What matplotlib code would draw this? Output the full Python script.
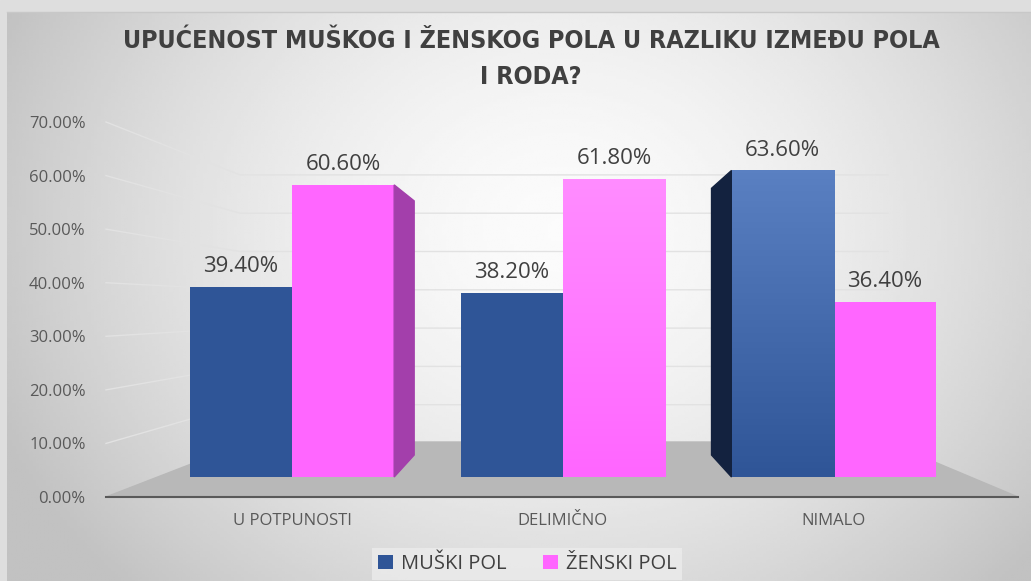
import numpy as np
import matplotlib.pyplot as plt
from matplotlib.patches import Polygon, Rectangle
from matplotlib.ticker import FuncFormatter
from matplotlib.colors import LinearSegmentedColormap
from matplotlib import font_manager

# data
categories = ['U POTPUNOSTI', 'DELIMIČNO', 'NIMALO']
muski = [39.4, 38.2, 63.6]
zenski = [60.6, 61.8, 36.4]
series_names = ['MUŠKI POL', 'ŽENSKI POL']
title = 'UPUĆENOST MUŠKOG I ŽENSKOG POLA U RAZLIKU IZMEĐU POLA\nI RODA?'

W, H = 1031, 581
BLUE = '#2f5597'
PINK = '#ff66ff'
TXT = '#404040'
LBL = '#595959'

plt.rcParams['font.family'] = ['Open Sans', 'DejaVu Sans']

# narrow font for the title if there is one
names = {f.name for f in font_manager.fontManager.ttflist}
title_font = 'Liberation Sans Narrow' if 'Liberation Sans Narrow' in names else 'DejaVu Sans'

fig = plt.figure(figsize=(W / 100, H / 100), dpi=100)


def fx(px):
    return px / W


def fy(py):
    return 1 - py / H


# background: outer frame + panel with soft radial gradient
bg = fig.add_axes([0, 0, 1, 1], zorder=0)
bg.set_xlim(0, W)
bg.set_ylim(H, 0)
bg.axis('off')
bg.add_patch(Rectangle((0, 0), W, H, color='#dedede', zorder=0))
xx, yy = np.meshgrid(np.linspace(7, W, 300), np.linspace(12, H, 200))
r = np.sqrt(((xx - 560) / 620) ** 2 + ((yy - 230) / 520) ** 2)
shade = np.clip(0.985 - 0.23 * r ** 1.6, 0.76, 0.985)
bg.imshow(shade, cmap='gray', vmin=0, vmax=1, extent=(7, W, H, 12),
          aspect='auto', zorder=1, interpolation='bilinear')
bg.plot([7, W], [12, 12], color='#c8c8c8', lw=1, zorder=2)


# 3D-ish floor and back wall gridlines (pixel coords)
def wall_y(v):
    return 443 - 3.83 * v


def axis_y(v):
    return 497 - 5.357 * v


bg.add_patch(Polygon([(106, 497), (248, 442), (887, 442), (1018, 497)],
                     closed=True, color='#b8b8b8', zorder=3))
for v in range(10, 80, 10):
    bg.plot([106, 240, 888], [axis_y(v), wall_y(v), wall_y(v)],
            color='#e2e2e2', lw=1, zorder=2)
bg.plot([106, 1018], [497, 497], color='#595959', lw=1.5, zorder=4)

# value axis (tick labels only)
ax = fig.add_axes([fx(105), fy(497), fx(1018) - fx(105), fy(122) - fy(497)], zorder=2)
ax.set_ylim(0, 0.7)
ax.set_yticks(np.arange(0, 0.71, 0.1))
ax.yaxis.set_major_formatter(FuncFormatter(lambda v, p: f'{v * 100:.2f}%'))
ax.tick_params(axis='y', length=0, labelsize=12, labelcolor=LBL, pad=14)
ax.set_xticks([])
ax.patch.set_alpha(0)
for s in ax.spines.values():
    s.set_visible(False)

# bars axis (perspective-scaled front faces)
x = np.arange(len(categories))
bw = 0.377
ax2 = fig.add_axes(ax.get_position(), zorder=3)
ax2.axis('off')

b1 = ax2.bar(x - bw / 2, muski, bw, color=BLUE, zorder=3, label=series_names[0])
b2 = ax2.bar(x + bw / 2, zenski, bw, color=PINK, zorder=3, label=series_names[1])

# gradients on the third blue bar and the middle pink bar
grad = np.linspace(0, 1, 100).reshape(-1, 1)
for bar, cols in [(b1[2], ['#2f5597', '#5a80c2']), (b2[1], ['#ff66ff', '#ff8cff'])]:
    cm = LinearSegmentedColormap.from_list('g', cols)
    im = ax2.imshow(grad, cmap=cm, origin='lower', aspect='auto', zorder=3.5,
                    extent=(bar.get_x(), bar.get_x() + bar.get_width(), 0, bar.get_height()))
    im.set_clip_path(bar)
ax2.set_xlim(-0.691, 2.681)
ax2.set_ylim(-4.15, 73.65)

# side faces seen in perspective
dx = 20 / 270.75
sb = b2[0]
xr = sb.get_x() + sb.get_width()
h = sb.get_height()
ax2.add_patch(Polygon([(xr, 0), (xr, h), (xr + dx, 4.56 + 0.87 * h), (xr + dx, 4.56)],
                      closed=True, color='#a33fab', zorder=3))
sb = b1[2]
xl = sb.get_x()
h = sb.get_height()
ax2.add_patch(Polygon([(xl, 0), (xl, h), (xl - dx, 4.56 + 0.87 * h), (xl - dx, 4.56)],
                      closed=True, color='#13223f', zorder=3))

for bars in (b1, b2):
    for b in bars:
        ax2.annotate(f'{b.get_height():.2f}%', (b.get_x() + b.get_width() / 2, b.get_height()),
                     xytext=(0, 7), textcoords='offset points', ha='center', va='bottom',
                     fontsize=16, color=TXT, zorder=5)

# category labels
for i, c in enumerate(categories):
    ax2.text(i, -7.4, c, ha='center', va='top', fontsize=12, color=LBL)

fig.text(fx(531), fy(59), title, ha='center', va='center', fontsize=18, fontweight='bold',
         color=TXT, linespacing=1.6, family=[title_font, 'DejaVu Sans'],
         fontstretch='condensed')

leg = fig.legend(handles=[b1, b2], labels=series_names, loc='center',
                 bbox_to_anchor=(fx(527), fy(564)), ncol=2, frameon=True,
                 fontsize=14.5, handlelength=0.75, handleheight=0.75,
                 handletextpad=0.4, columnspacing=1.8, borderpad=0.3,
                 labelcolor=TXT)
leg.get_frame().set_facecolor('#ececec')
leg.get_frame().set_edgecolor('none')
leg.get_frame().set_boxstyle('square', pad=0.0)

fig.savefig('out.png', dpi=100)
